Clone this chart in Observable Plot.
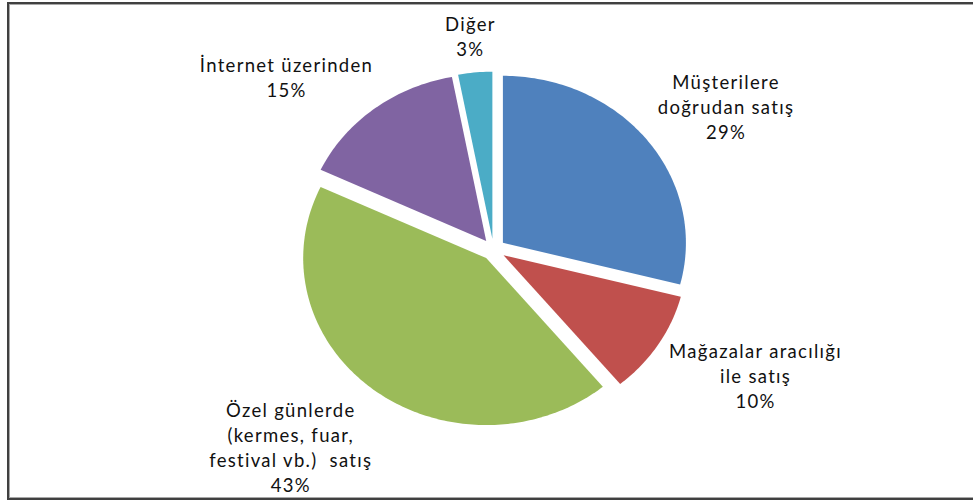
<!DOCTYPE html>
<html><head><meta charset="utf-8">
<script src="https://cdn.jsdelivr.net/npm/d3@7"></script>
<script src="https://cdn.jsdelivr.net/npm/@observablehq/plot@0.6"></script>
<style>
html,body{margin:0;padding:0;background:#fff;}
#wrap{position:relative;width:973px;height:502px;overflow:hidden;background:#fff;}
#chart svg{display:block;}
#chart text{letter-spacing:1.3px;}
#frame{position:absolute;left:7px;top:2px;width:990px;height:494px;border-top:2px solid #404040;border-left:2px solid #404040;border-bottom:2px solid #404040;box-shadow:inset 1px 1px 0 #a8a8a8, inset 0 -1px 0 #a8a8a8;pointer-events:none;}
</style></head><body>
<div id="wrap"><div id="chart"></div><div id="frame"></div></div>
<script>
// ---- data ----
const categories = [
  "Müşterilere doğrudan satış",
  "Mağazalar aracılığı ile satış",
  "Özel günlerde (kermes, fuar, festival vb.)  satış",
  "İnternet üzerinden",
  "Diğer"
];
const labelLines = [
  ["Müşterilere", "doğrudan satış"],
  ["Mağazalar aracılığı", "ile satış"],
  ["Özel günlerde", "(kermes, fuar,", "festival vb.)  satış"],
  ["İnternet üzerinden"],
  ["Diğer"]
];
const shares = [29, 10, 43, 15, 3];
const colors = ["#4F81BD", "#C0504D", "#9BBB59", "#8064A2", "#4BACC6"];

// ---- layout ----
const W = 973, H = 502;
const cx = 493, cy = 249, rx = 183, ry = 167;
const explode = 0.065;
const fontSize = 18.5, lineH = 25, fontFamily = "Lato", letterSp = 1.3;
const labelGap = 0.07, spreadKx = 1.5, spreadKy = 1.2;

const total = d3.sum(shares);
const slicePts = [];
const labels = [];
const ctx = document.createElement("canvas").getContext("2d");
ctx.font = `${fontSize}px ${fontFamily}`;
const textW = s => ctx.measureText(s).width + letterSp * s.length;
let acc = 0;
shares.forEach((v, i) => {
  const a0 = acc / total * 2 * Math.PI;
  acc += v;
  const a1 = acc / total * 2 * Math.PI;
  const m = (a0 + a1) / 2;
  const ux = Math.sin(m), uy = -Math.cos(m);
  const ex = explode * ux, ey = explode * uy;
  const cat = categories[i];
  slicePts.push({cat, x: ex, y: ey});
  const n = Math.max(2, Math.ceil((a1 - a0) / (Math.PI / 180)));
  for (let k = 0; k <= n; k++) {
    const a = a0 + (a1 - a0) * k / n;
    slicePts.push({cat, x: ex + Math.sin(a), y: ey - Math.cos(a)});
  }
  // label placement, outside the slice along its bisector
  const lines = [...labelLines[i], `${v}%`];
  const w = d3.max(lines, textW);
  const h = lines.length * lineH;
  const R = 1 + explode + labelGap;
  const px = cx + rx * R * ux, py = cy + ry * R * uy;
  const clamp = t => Math.max(-1, Math.min(1, t));
  const lx = px + w / 2 * clamp(spreadKx * ux);
  const ly = py + h / 2 * clamp(spreadKy * uy);
  labels.push({cat, text: lines.join("\n"), x: (lx - cx) / rx, y: (ly - cy) / ry});
});

const chart = Plot.plot({
  width: W, height: H,
  margin: 0,
  style: {background: "#fff", fontFamily, fontSize: fontSize + "px", overflow: "visible"},
  x: {domain: [-1, 1], range: [cx - rx, cx + rx], axis: null},
  y: {domain: [-1, 1], range: [cy - ry, cy + ry], axis: null},
  color: {domain: categories, range: colors},
  marks: [
    Plot.line(slicePts, {x: "x", y: "y", z: "cat", fill: "cat", stroke: "none", curve: "linear-closed"}),
    Plot.text(labels, {x: "x", y: "y", text: "text", fill: "#111", fontSize, lineHeight: lineH / fontSize, lineAnchor: "middle", textAnchor: "middle"})
  ]
});
document.getElementById("chart").appendChild(chart);
</script>
</body></html>
